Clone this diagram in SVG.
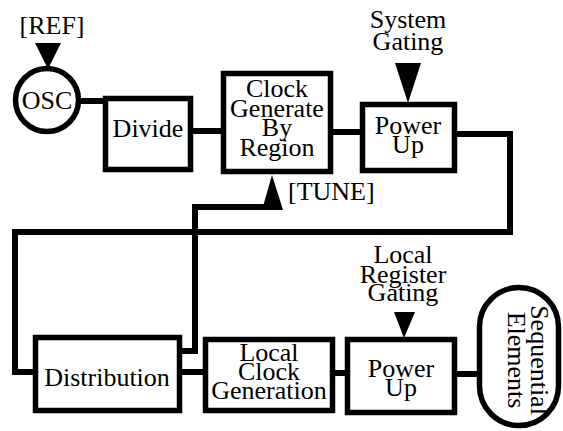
<svg xmlns="http://www.w3.org/2000/svg" width="563" height="431" viewBox="0 0 563 431">
<style>
.box{fill:#fff;stroke:#000;stroke-width:5.5}
.ln{fill:none;stroke:#000;stroke-width:6;stroke-linejoin:miter}
.tri{fill:#000;stroke:none}
text{font-family:"Liberation Serif","Times New Roman",serif;font-size:26px;fill:#000}
.c{text-anchor:middle}
</style>
<rect width="563" height="431" fill="#fff"/>
<g id="connectors">
<path class="ln" d="M78,101 H105"/>
<path class="ln" d="M193,131 H222"/>
<path class="ln" d="M333,132 H360"/>
<path class="ln" d="M457,134 H510 V232 H15 V372 H34"/>
<path class="ln" d="M181,351 H195 V207 H268"/>
<path class="ln" d="M182,372 H204"/>
<path class="ln" d="M334,373 H346"/>
<path class="ln" d="M456,374 H478"/>
<polygon class="tri" points="35,43 61,43 48,69"/>
<polygon class="tri" points="395,63 421,63 408,103"/>
<polygon class="tri" points="262,210 283,210 272,175"/>
<polygon class="tri" points="394,312 415,312 404,338"/>
</g>
<g id="ref"><text class="c" x="52" y="34">[REF]</text></g>
<g id="osc">
<circle cx="47" cy="100" r="31.5" fill="#fff" stroke="#000" stroke-width="5.5"/>
<text class="c" x="47" y="109" font-size="27">OSC</text>
</g>
<g id="divide">
<rect class="box" x="105.5" y="98.5" width="85" height="71"/>
<text class="c" x="148" y="137">Divide</text>
</g>
<g id="clockgen">
<rect class="box" x="223.5" y="73.5" width="107" height="98"/>
<text class="c" x="277" y="97">Clock</text>
<text class="c" x="277" y="117">Generate</text>
<text class="c" x="277" y="136">By</text>
<text class="c" x="277" y="156">Region</text>
</g>
<g id="systemgating">
<text class="c" x="408" y="28">System</text>
<text class="c" x="408" y="50">Gating</text>
</g>
<g id="powerup1">
<rect class="box" x="362.5" y="104.5" width="92" height="66"/>
<text class="c" x="408" y="134">Power</text>
<text class="c" x="408" y="153">Up</text>
</g>
<g id="tune"><text x="288" y="200">[TUNE]</text></g>
<g id="distribution">
<rect class="box" x="35.5" y="337.5" width="144" height="73"/>
<text class="c" x="107" y="386">Distribution</text>
</g>
<g id="localclock">
<rect class="box" x="205.5" y="339.5" width="127" height="71"/>
<text class="c" x="269" y="361">Local</text>
<text class="c" x="269" y="380">Clock</text>
<text class="c" x="269" y="399">Generation</text>
</g>
<g id="localgating">
<text class="c" x="403" y="263">Local</text>
<text class="c" x="403" y="283">Register</text>
<text class="c" x="403" y="301">Gating</text>
</g>
<g id="powerup2">
<rect class="box" x="347.5" y="339.5" width="107" height="73"/>
<text class="c" x="401" y="377">Power</text>
<text class="c" x="401" y="396">Up</text>
</g>
<g id="sequential">
<rect class="box" x="479.5" y="287.5" width="79" height="138" rx="39.5" ry="39.5"/>
<text class="c" transform="translate(531,360) rotate(90)"><tspan x="0" y="0">Sequential</tspan><tspan x="0" y="23">Elements</tspan></text>
</g>
</svg>
